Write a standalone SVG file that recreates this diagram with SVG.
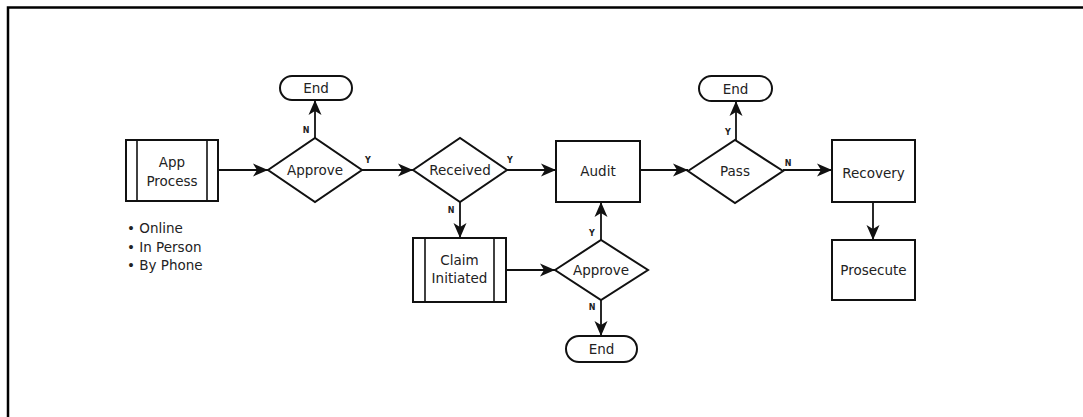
<svg xmlns="http://www.w3.org/2000/svg" width="1083" height="417" viewBox="0 0 1083 417">
<style>
.shape{fill:#fff;stroke:#111;stroke-width:2}
.inner{fill:none;stroke:#111;stroke-width:1.6}
.lbl{font-family:"DejaVu Sans",sans-serif;font-size:13.5px;fill:#222;text-anchor:middle}
.bul{font-family:"DejaVu Sans",sans-serif;font-size:13.5px;fill:#222}
.yn{font-family:"DejaVu Sans",sans-serif;font-size:8px;font-weight:bold;fill:#222;text-anchor:middle}
.conn{fill:none;stroke:#111;stroke-width:1.8;marker-end:url(#ah)}
</style>
<defs>
<marker id="ah" markerUnits="userSpaceOnUse" markerWidth="16" markerHeight="14" refX="15" refY="7" orient="auto">
<path d="M0,0.5 L15,7 L0,13.5 L4,7 Z" fill="#111"/>
</marker>
</defs>
<rect width="1083" height="417" fill="#fff"/>
<path d="M8,417 L8,7.5 L1083,7.5" fill="none" stroke="#000" stroke-width="2.5"/>

<g id="connectors">
<line class="conn" x1="218" y1="170" x2="268" y2="170"/>
<line class="conn" x1="315" y1="138" x2="315" y2="100"/>
<line class="conn" x1="362" y1="170" x2="413" y2="170"/>
<line class="conn" x1="507" y1="170" x2="556" y2="170"/>
<line class="conn" x1="460" y1="202" x2="460" y2="238"/>
<line class="conn" x1="640" y1="170" x2="688" y2="170"/>
<line class="conn" x1="506" y1="270" x2="555" y2="270"/>
<line class="conn" x1="601" y1="240" x2="601" y2="202"/>
<line class="conn" x1="601" y1="300" x2="601" y2="336"/>
<line class="conn" x1="736" y1="140" x2="736" y2="101"/>
<line class="conn" x1="783" y1="170" x2="832" y2="170"/>
<line class="conn" x1="873" y1="202" x2="873" y2="240"/>
<text class="yn" x="306" y="133">N</text>
<text class="yn" x="368" y="163">Y</text>
<text class="yn" x="510" y="163">Y</text>
<text class="yn" x="451" y="213">N</text>
<text class="yn" x="592" y="236">Y</text>
<text class="yn" x="592" y="310">N</text>
<text class="yn" x="728" y="135">Y</text>
<text class="yn" x="788" y="166">N</text>
</g>

<g id="app-process">
<rect class="shape" x="126" y="140" width="92" height="61"/>
<line class="inner" x1="137" y1="140" x2="137" y2="201"/>
<line class="inner" x1="207" y1="140" x2="207" y2="201"/>
<text class="lbl" x="172" y="167">App</text>
<text class="lbl" x="172" y="186">Process</text>
</g>

<g id="bullets">
<text class="bul" x="127" y="233">• Online</text>
<text class="bul" x="127" y="252">• In Person</text>
<text class="bul" x="127" y="270">• By Phone</text>
</g>

<g id="approve1">
<polygon class="shape" points="268,170 315,138 362,170 315,202"/>
<text class="lbl" x="315" y="175">Approve</text>
</g>

<g id="end1">
<rect class="shape" x="280" y="76" width="72" height="24" rx="12"/>
<text class="lbl" x="316" y="93">End</text>
</g>

<g id="received">
<polygon class="shape" points="413,170 460,138 507,170 460,202"/>
<text class="lbl" x="460" y="175">Received</text>
</g>

<g id="audit">
<rect class="shape" x="556" y="141" width="84" height="61"/>
<text class="lbl" x="598" y="175.5">Audit</text>
</g>

<g id="claim-initiated">
<rect class="shape" x="413" y="238" width="93" height="64"/>
<line class="inner" x1="425" y1="238" x2="425" y2="302"/>
<line class="inner" x1="494" y1="238" x2="494" y2="302"/>
<text class="lbl" x="459.5" y="265">Claim</text>
<text class="lbl" x="459.5" y="283">Initiated</text>
</g>

<g id="approve2">
<polygon class="shape" points="555,270 601,240 648,270 601,300"/>
<text class="lbl" x="601" y="275">Approve</text>
</g>

<g id="end2">
<rect class="shape" x="566" y="336" width="71" height="26" rx="13"/>
<text class="lbl" x="601.5" y="354">End</text>
</g>

<g id="pass">
<polygon class="shape" points="688,171 735,140 783,171 735,203"/>
<text class="lbl" x="735" y="176">Pass</text>
</g>

<g id="end3">
<rect class="shape" x="699" y="76" width="73" height="25" rx="12.5"/>
<text class="lbl" x="735.5" y="93.5">End</text>
</g>

<g id="recovery">
<rect class="shape" x="832" y="140" width="83" height="62"/>
<text class="lbl" x="873.5" y="177.5">Recovery</text>
</g>

<g id="prosecute">
<rect class="shape" x="832" y="240" width="83" height="60"/>
<text class="lbl" x="873.5" y="275">Prosecute</text>
</g>
</svg>
